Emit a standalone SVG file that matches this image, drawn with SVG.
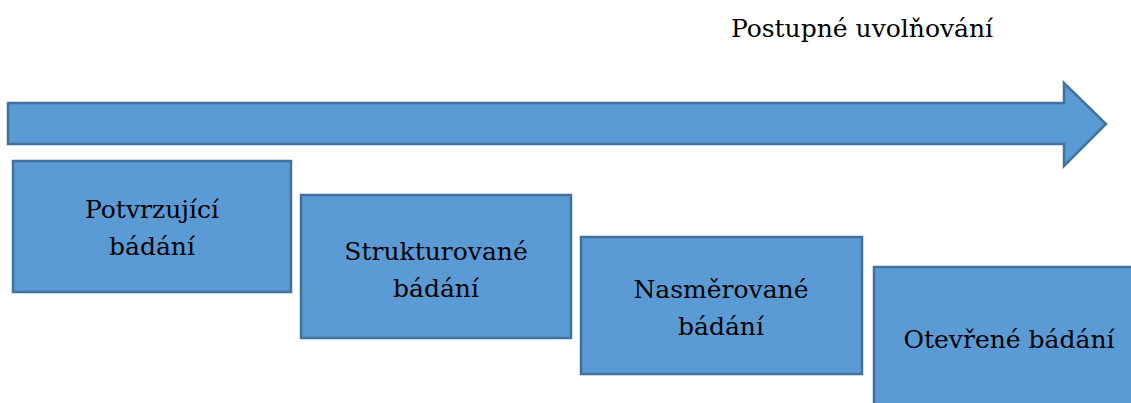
<svg xmlns="http://www.w3.org/2000/svg" width="1131" height="403" viewBox="0 0 1131 403">
<style>
.shape{fill:#5B9BD5;stroke:#41719C;stroke-width:2.5}
text{font-family:"DejaVu Serif","Liberation Serif",serif;font-size:25px;fill:#000;text-anchor:middle}
</style>
<rect width="1131" height="403" fill="#fff"/>
<g id="title"><text x="862" y="37">Postupné uvolňování</text></g>
<g id="connectors">
<path class="shape" d="M8,103 H1064 V83 L1106,124 L1064,166 V144 H8 Z"/>
</g>
<g id="node1">
<rect class="shape" x="13" y="161" width="278" height="131"/>
<text x="152" y="218">Potvrzující</text>
<text x="152" y="255">bádání</text>
</g>
<g id="node2">
<rect class="shape" x="301" y="195" width="270" height="143"/>
<text x="436" y="260">Strukturované</text>
<text x="436" y="297">bádání</text>
</g>
<g id="node3">
<rect class="shape" x="581" y="237" width="281" height="137"/>
<text x="721" y="298">Nasměrované</text>
<text x="721" y="335">bádání</text>
</g>
<g id="node4">
<rect class="shape" x="874" y="267" width="270" height="150"/>
<text x="1009" y="348">Otevřené bádání</text>
</g>
</svg>
